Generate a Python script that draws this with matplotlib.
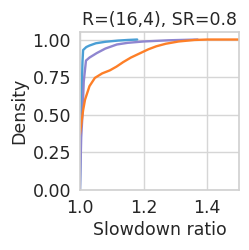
import numpy as np
import matplotlib
matplotlib.use("Agg")
import matplotlib.pyplot as plt
import seaborn as sns

sns.set_style("whitegrid")
plt.rcParams['font.family'] = ['DejaVu Sans']

# ECDF curves (slowdown ratio, cumulative density)
blue_x = [1.0, 1.003, 1.005, 1.008, 1.01, 1.02, 1.03, 1.05, 1.08, 1.12, 1.15, 1.18]
blue_y = [0.0, 0.45, 0.6, 0.85, 0.93, 0.95, 0.96, 0.975, 0.985, 0.993, 0.997, 1.0]

purple_x = [1.0, 1.004, 1.008, 1.012, 1.019, 1.03, 1.053, 1.08, 1.116, 1.15, 1.2, 1.28, 1.37]
purple_y = [0.0, 0.35, 0.5, 0.72, 0.86, 0.88, 0.91, 0.94, 0.967, 0.978, 0.987, 0.995, 1.0]

orange_x = [1.0, 1.005, 1.01, 1.016, 1.03, 1.047, 1.07, 1.094, 1.115, 1.136, 1.16, 1.19,
            1.215, 1.24, 1.27, 1.31, 1.36, 1.4, 1.5]
orange_y = [0.37, 0.45, 0.53, 0.6, 0.69, 0.745, 0.775, 0.795, 0.82, 0.85, 0.88, 0.91,
            0.935, 0.955, 0.972, 0.987, 0.997, 1.0, 1.0]

fig = plt.figure(figsize=(2.49, 2.5), dpi=100)
ax = fig.add_axes([0.321, 0.24, 0.639, 0.632])

ax.plot(blue_x, blue_y, color='#4a9fd5', lw=1.7)
ax.plot(purple_x, purple_y, color='#8f86d0', lw=1.7)
ax.plot(orange_x, orange_y, color='#fd7f28', lw=1.7)

ax.set_xlim(1.0, 1.5)
ax.set_ylim(0, 1.05)
ax.set_xticks([1.0, 1.2, 1.4])
ax.set_yticks([0.0, 0.25, 0.5, 0.75, 1.0])
ax.set_yticklabels(['0.00', '0.25', '0.50', '0.75', '1.00'])
ax.tick_params(labelsize=12.5, pad=3)
ax.grid(lw=1.0, color='#d6d6d6')
for s in ax.spines.values():
    s.set_color('#d0d0d0')
    s.set_linewidth(1.2)
ax.set_xlabel('Slowdown ratio', fontsize=12.5, labelpad=3)
ax.set_ylabel('Density', fontsize=12.5, labelpad=3)
ax.set_title('R=(16,4), SR=0.8', fontsize=12.5, pad=5)

fig.savefig('out.png', dpi=100)
